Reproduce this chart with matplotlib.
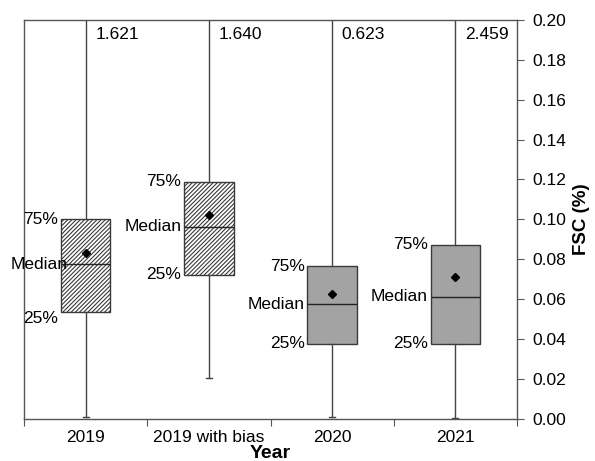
import matplotlib
matplotlib.use("Agg")
import matplotlib.pyplot as plt

plt.rcParams['font.family'] = ['Liberation Sans', 'DejaVu Sans']
plt.rcParams['hatch.color'] = '#6a6a6a'
plt.rcParams['hatch.linewidth'] = 0.8

categories = ["2019", "2019 with bias", "2020", "2021"]
q1 = [0.0537, 0.0722, 0.0375, 0.0375]
medians = [0.0775, 0.0962, 0.0573, 0.0610]
q3 = [0.1000, 0.1188, 0.0763, 0.0872]
means = [0.0832, 0.1022, 0.0623, 0.0712]
mins = [0.001, 0.0205, 0.001, 0.0003]
maxs = [1.621, 1.640, 0.623, 2.459]
max_labels = ["1.621", "1.640", "0.623", "2.459"]
hatched = [True, True, False, False]
y_ticks = [0.00, 0.02, 0.04, 0.06, 0.08, 0.10, 0.12, 0.14, 0.16, 0.18, 0.20]

fig = plt.figure(figsize=(5.95, 4.61), dpi=100)
ax = fig.add_axes([24/595, 1-418.5/461, (517-24)/595, (418.5-20)/461])

positions = [i + 0.5 for i in range(len(categories))]
stats = []
for i, c in enumerate(categories):
    stats.append(dict(label=c, q1=q1[i], med=medians[i], q3=q3[i], mean=means[i],
                      whislo=mins[i], whishi=maxs[i], fliers=[]))

spine_col = '#555555'
res = ax.bxp(stats, positions=positions, widths=0.4, showmeans=True, patch_artist=True,
             capwidths=0.05,
             boxprops=dict(edgecolor='#3a3a3a', linewidth=1.0),
             medianprops=dict(color='#222222', linewidth=1.0),
             whiskerprops=dict(color='#444444', linewidth=1.0),
             capprops=dict(color='#444444', linewidth=1.0),
             meanprops=dict(marker='D', markerfacecolor='black', markeredgecolor='black', markersize=4))
for b, h in zip(res['boxes'], hatched):
    if h:
        b.set_facecolor('white')
        b.set_hatch('////////')
    else:
        b.set_facecolor('#a3a3a3')

fs = 12.5
# box labels
for i, p in enumerate(positions):
    xl = p - 0.2
    kw = dict(ha='right', va='center', fontsize=fs, textcoords='offset points')
    ax.annotate("75%", (xl, q3[i]), xytext=(-2, 0), **kw)
    ax.annotate("Median", (xl, medians[i]), xytext=(-2 if i else 5, 0), **kw)
    ax.annotate("25%", (xl, q1[i]), xytext=(-2, -5 if i == 0 else 0), **kw)
    ax.annotate(max_labels[i], (p, 0.1925), xytext=(7, 0), textcoords='offset points',
                ha='left', va='center', fontsize=fs)

ax.set_xlim(0, 4)
ax.set_ylim(0, 0.20)
ax.set_xticks(range(0, 5))
ax.set_xticklabels([])
ax.set_xticks(positions, minor=True)
ax.set_xticklabels(categories, minor=True, fontsize=fs)
ax.tick_params(axis='x', which='minor', length=0, pad=8)
ax.tick_params(axis='x', which='major', length=5, direction='out', color=spine_col)

ax.yaxis.tick_right()
ax.yaxis.set_label_position('right')
ax.set_yticks(y_ticks)
ax.set_yticklabels([f"{v:.2f}" for v in y_ticks], fontsize=fs)
ax.tick_params(axis='y', length=5, direction='out', color=spine_col, pad=6)
ax.set_ylabel("FSC (%)", fontsize=13.5, fontweight='bold', labelpad=5)
ax.set_xlabel("Year", fontsize=14, fontweight='bold', labelpad=0)

for s in ax.spines.values():
    s.set_color(spine_col)
    s.set_linewidth(1.0)

fig.savefig("out.png", dpi=100)
